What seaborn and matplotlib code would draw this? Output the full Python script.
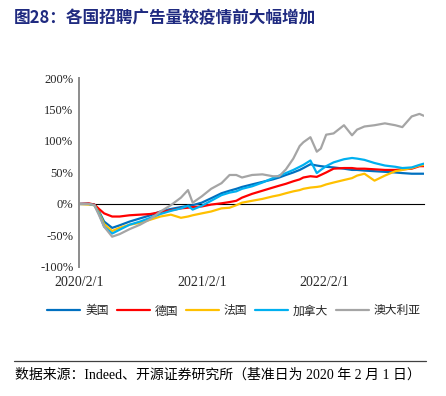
import numpy as np
import pandas as pd
import matplotlib
matplotlib.use("Agg")
import matplotlib.pyplot as plt
import seaborn as sns

# Data (% change vs 2020/2/1)
dates = [
    "2020-02-01", "2020-03-01", "2020-03-18", "2020-04-01", "2020-04-16",
    "2020-05-10", "2020-06-01", "2020-07-01", "2020-08-01", "2020-09-01",
    "2020-10-01", "2020-11-01", "2020-12-01", "2020-12-22", "2021-01-05",
    "2021-02-01", "2021-03-01", "2021-04-01", "2021-04-25", "2021-05-15",
    "2021-06-01", "2021-07-01", "2021-08-01", "2021-09-01", "2021-09-20",
    "2021-10-10", "2021-11-01", "2021-11-20", "2021-12-01", "2021-12-22",
    "2022-01-10", "2022-01-22", "2022-02-07", "2022-03-01", "2022-04-01",
    "2022-04-25", "2022-05-10", "2022-06-01", "2022-07-01", "2022-08-01",
    "2022-09-01", "2022-09-22", "2022-10-20", "2022-11-12", "2022-11-25",
]

usa = [0, 0, -1, -12, -28, -38, -34, -28, -23, -18, -12, -8, -5, -3, -2,
       2, 9, 17, 21, 24, 27, 31, 35, 39, 42, 46, 50, 54, 57, 63,
       61, 60, 59, 58, 56, 54, 54, 53, 52, 51, 50, 49, 48, 48, 48]
germany = [0, 1, -1, -8, -15, -20, -20, -18, -17, -16, -13, -10, -7, -6, -5,
           -4, -1, 1, 3, 5, 10, 16, 21, 26, 29, 32, 36, 39, 42, 44,
           43, 46, 50, 56, 57, 57, 56, 56, 55, 54, 54, 55, 56, 60, 60]
france = [0, -1, -2, -14, -32, -43, -38, -33, -30, -25, -20, -17, -22, -20, -18,
          -15, -12, -7, -6, -2, 2, 5, 8, 12, 14, 17, 20, 22, 24, 26,
          27, 28, 31, 34, 38, 41, 45, 48, 37, 45, 52, 54, 57, 61, 62]
canada = [0, 0, -2, -16, -36, -47, -41, -33, -28, -22, -16, -11, -7, -3, -9,
          -3, 5, 14, 18, 20, 24, 28, 34, 41, 45, 49, 54, 59, 62, 69,
          49, 54, 60, 66, 71, 73, 72, 70, 65, 61, 59, 57, 58, 62, 64]
australia = [0, 0, -2, -18, -36, -52, -48, -40, -33, -24, -12, -2, 10, 22, 2,
             12, 24, 33, 46, 46, 42, 46, 47, 44, 44, 55, 72, 92, 98, 106,
             83, 88, 110, 112, 125, 109, 118, 123, 125, 128, 125, 122, 139, 143, 140]

countries = ["美国", "德国", "法国", "加拿大", "澳大利亚"]
colors = ["#0070C0", "#FF0000", "#FFC000", "#00B0F0", "#A5A5A5"]
series = [usa, germany, france, canada, australia]

year_ticks = ["2020-02-01", "2021-02-01", "2022-02-01"]
year_labels = ["2020/2/1", "2021/2/1", "2022/2/1"]

# Build long table
frames = []
for name, vals in zip(countries, series):
    frames.append(pd.DataFrame({
        "date": pd.to_datetime(dates),
        "value": vals,
        "country": name,
    }))
df = pd.concat(frames, ignore_index=True)

sns.set_style("white")
plt.rcParams["font.family"] = ["Liberation Serif", "Noto Sans CJK SC"]

fig = plt.figure(figsize=(4.46, 3.96), dpi=100)
ax = fig.add_axes([0.177, 0.326, 0.774, 0.477])

sns.lineplot(
    data=df,
    x="date",
    y="value",
    hue="country",
    hue_order=countries,
    palette=dict(zip(countries, colors)),
    linewidth=1.6,
    ax=ax,
)

ax.set_xlim(pd.Timestamp("2020-02-01"), pd.Timestamp("2022-11-26"))
ax.set_ylim(-100, 200)
ax.set_yticks(np.arange(-100, 201, 50))
ax.set_yticklabels([f"{v}%" for v in range(-100, 201, 50)], fontsize=9)
ax.set_xticks(pd.to_datetime(year_ticks))
ax.set_xticklabels(year_labels, fontsize=9)
ax.set_xlabel("")
ax.set_ylabel("")

for s in ["top", "right"]:
    ax.spines[s].set_visible(False)
ax.spines["left"].set_color("#8C8C8C")
ax.spines["left"].set_linewidth(1.4)
ax.spines["bottom"].set_position(("data", 0))
ax.spines["bottom"].set_color("black")
ax.spines["bottom"].set_linewidth(0.8)
ax.spines["bottom"].set_zorder(1)

ax.tick_params(axis="y", direction="in", length=3, color="#8C8C8C", pad=4)
ax.tick_params(axis="x", direction="in", length=3, color="black", pad=52)

ax.legend(
    loc="center",
    bbox_to_anchor=(0.525, 0.215),
    bbox_transform=fig.transFigure,
    ncol=5,
    frameon=False,
    handlelength=2.8,
    handletextpad=0.4,
    columnspacing=0.68,
    prop={"family": ["Noto Sans CJK SC"], "size": 8.5},
)

fig.text(0.031, 0.955, "图28：各国招聘广告量较疫情前大幅增加",
         fontsize=12, fontweight="bold", color="#1F2A80",
         family=["Noto Sans CJK SC"], va="center", ha="left")

fig.add_artist(plt.Line2D([0.031, 0.955], [0.089, 0.089],
                          transform=fig.transFigure, color="#404040", linewidth=0.9))
fig.text(0.033, 0.052, "数据来源：Indeed、开源证券研究所（基准日为 2020 年 2 月 1 日）",
         fontsize=10, color="black", va="center", ha="left")

fig.savefig("out.png", dpi=100)
